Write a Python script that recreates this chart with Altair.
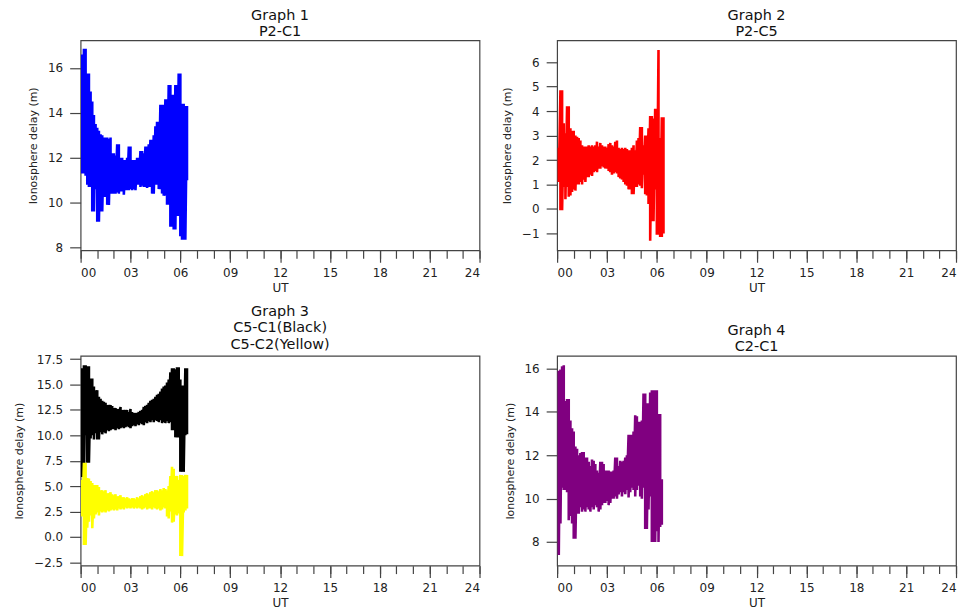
import altair as alt
import pandas as pd

# ---- data (hours UT, upper / lower envelope of the noisy trace) ----
UT = [0.1, 0.2, 0.3, 0.4, 0.5, 0.6, 0.7, 0.8, 0.9, 1.0,
      1.1, 1.2, 1.3, 1.4, 1.5, 1.6, 1.7, 1.8, 1.9, 2.0,
      2.1, 2.2, 2.3, 2.4, 2.5, 2.6, 2.7, 2.8, 2.9, 3.0,
      3.1, 3.2, 3.3, 3.4, 3.5, 3.6, 3.7, 3.8, 3.9, 4.0,
      4.1, 4.2, 4.3, 4.4, 4.5, 4.6, 4.7, 4.8, 4.9, 5.0,
      5.1, 5.2, 5.3, 5.4, 5.5, 5.6, 5.7, 5.8, 5.9, 6.0,
      6.1, 6.2, 6.3, 6.4]
UT4 = UT[:63]

P2C1_HIGH = [16.6, 16.85, 16.85, 15.75, 15.75, 14.95, 14.5, 13.9, 13.5, 13.33,
             13.2, 13.04, 13.0, 12.9, 12.9, 12.9, 12.85, 12.9, 12.2, 12.2,
             12.1, 12.6, 12.6, 12.0, 12.0, 11.9, 11.9, 12.0, 12.5, 12.5,
             11.9, 11.9, 11.9, 12.0, 12.0, 12.3, 12.3, 12.2, 12.5, 12.5,
             12.6, 12.8, 12.8, 13.0, 13.4, 13.6, 13.6, 14.36, 14.36, 14.36,
             14.6, 14.6, 15.24, 15.24, 14.8, 14.8, 15.24, 15.24, 15.75, 15.75,
             14.4, 14.4, 14.3, 14.3]
P2C1_LOW = [11.3, 11.3, 11.2, 10.8, 10.7, 10.7, 9.6, 9.6, 10.6, 9.15,
            9.15, 9.6, 9.6, 10.25, 10.25, 9.9, 9.9, 10.4, 10.4, 10.4,
            10.4, 10.45, 10.4, 10.5, 10.5, 10.35, 10.55, 10.55, 10.55, 10.6,
            10.55, 10.6, 10.55, 10.8, 10.8, 10.7, 10.75, 10.7, 10.7, 10.65,
            10.7, 10.7, 10.4, 10.4, 10.8, 10.8, 10.6, 10.6, 10.4, 10.3,
            10.3, 9.9, 9.9, 8.93, 8.93, 8.8, 8.8, 9.4, 9.4, 8.5,
            8.35, 8.35, 8.35, 11.0]

P2C5_HIGH = [2.5, 4.85, 4.85, 3.5, 3.1, 4.2, 4.2, 3.3, 3.2, 3.2,
             3.0, 2.95, 2.9, 2.8, 2.6, 2.55, 2.55, 2.55, 2.6, 2.55,
             2.6, 2.55, 2.6, 2.75, 2.55, 2.7, 2.6, 2.55, 2.55, 2.5,
             2.65, 2.7, 2.6, 2.55, 2.75, 2.8, 2.5, 2.45, 2.5, 2.45,
             2.5, 2.45, 2.4, 2.4, 2.5, 2.6, 2.4, 2.8, 2.9, 3.35,
             3.35, 2.6, 3.0, 3.0, 3.3, 3.8, 3.8, 3.7, 4.1, 4.1,
             6.5, 2.9, 3.75, 3.75]
P2C5_LOW = [1.1, -0.05, -0.05, 0.9, 0.4, 0.9, 0.5, 0.55, 0.7, 0.8,
            0.75, 1.0, 1.0, 1.1, 1.0, 1.2, 1.1, 1.3, 1.3, 1.4,
            1.35, 1.5, 1.55, 1.5, 1.65, 1.65, 1.75, 1.7, 1.65, 1.65,
            1.55, 1.5, 1.4, 1.45, 1.5, 1.45, 1.3, 1.25, 1.2, 1.1,
            1.0, 0.95, 0.8, 0.8, 0.6, 0.6, 0.9, 0.9, 1.0, 0.95,
            0.85, 1.4, 0.6, 0.55, 0.2, -1.3, -0.5, -0.5, 0.8, -1.05,
            -1.05, -1.15, -1.15, -1.0]

C5C1_HIGH = [16.6, 16.9, 16.9, 16.8, 16.8, 15.6, 15.6, 14.8, 14.45, 14.45,
             13.8, 13.6, 13.4, 13.3, 13.2, 13.0, 13.0, 13.0, 12.9, 12.7,
             12.7, 12.6, 12.6, 12.8, 12.5, 12.5, 12.5, 12.5, 12.3, 12.6,
             12.3, 12.2, 12.2, 12.2, 12.3, 12.4, 12.5, 12.8, 12.9, 13.0,
             13.2, 13.4, 13.5, 13.6, 13.8, 14.0, 14.1, 14.3, 14.6, 14.8,
             14.9, 15.2, 15.5, 16.2, 16.6, 16.6, 16.5, 16.7, 16.7, 15.5,
             14.9, 14.9, 16.6, 16.6]
C5C1_LOW = [5.9, 5.9, 10.0, 7.3, 7.3, 9.7, 10.0, 9.6, 10.2, 9.6,
            9.6, 10.3, 10.1, 10.3, 10.2, 10.5, 10.4, 10.5, 10.6, 10.6,
            10.5, 10.7, 10.6, 10.7, 10.8, 10.7, 10.8, 10.9, 10.8, 10.7,
            10.9, 11.0, 10.9, 11.1, 11.0, 11.2, 11.1, 11.0, 11.3, 11.2,
            11.4, 11.3, 11.5, 11.3, 11.5, 11.4, 11.3, 11.5, 11.2, 11.3,
            11.2, 11.4, 11.2, 11.3, 10.5, 10.5, 9.8, 9.8, 9.8, 6.4,
            6.4, 6.4, 10.0, 10.1]

C5C2_HIGH = [5.6, 7.3, 7.3, 5.8, 5.75, 5.5, 5.3, 5.1, 5.1, 5.1,
             4.9, 4.6, 4.6, 4.5, 4.6, 4.3, 4.3, 4.4, 4.2, 4.1,
             4.2, 4.0, 4.0, 4.1, 3.9, 3.9, 3.8, 3.9, 3.8, 3.7,
             3.8, 3.8, 3.7, 3.9, 3.8, 4.0, 4.1, 4.0, 4.2, 4.3,
             4.2, 4.4, 4.5, 4.4, 4.6, 4.6, 4.5, 4.7, 4.6, 4.8,
             4.7, 4.6, 5.0, 6.0, 6.9, 6.7, 6.0, 6.0, 5.6, 6.1,
             6.1, 6.0, 6.1, 6.1]
C5C2_LOW = [2.0, -0.8, -0.8, 0.9, 1.5, 2.1, 0.85, 1.8, 2.2, 2.4,
            2.1, 2.5, 2.4, 2.5, 2.4, 2.6, 2.5, 2.6, 2.7, 2.6,
            2.7, 2.6, 2.8, 2.7, 2.8, 2.7, 2.9, 2.8, 2.9, 2.8,
            2.9, 2.8, 2.9, 2.8, 2.9, 2.8, 2.7, 2.8, 2.9, 2.7,
            2.8, 2.8, 2.7, 2.9, 2.8, 2.7, 2.8, 2.6, 2.7, 2.9,
            2.8, 2.0, 1.8, 2.5, 1.4, 1.5, 2.2, 2.1, 2.3, -1.9,
            -1.9, 2.4, 2.6, 2.8]

C2C1_HIGH = [15.9, 15.95, 16.1, 16.15, 14.5, 14.6, 14.6, 13.6, 13.25, 13.1,
             12.4, 12.3, 12.0, 12.1, 12.15, 12.15, 11.9, 11.9, 11.7, 11.5,
             11.8, 11.75, 11.6, 11.3, 11.2, 11.7, 11.7, 11.6, 11.3, 11.3,
             11.3, 11.25, 11.25, 11.3, 11.9, 11.9, 11.5, 11.75, 11.7, 11.75,
             11.9, 12.0, 12.95, 12.95, 12.95, 13.1, 13.85, 13.8, 13.55, 13.55,
             13.6, 14.85, 14.85, 14.4, 14.4, 14.9, 15.0, 15.0, 15.0, 15.0,
             13.9, 13.9, 10.9]
C2C1_LOW = [7.4, 8.85, 10.5, 10.4, 10.4, 10.3, 9.0, 9.2, 8.85, 8.15,
            8.15, 9.3, 9.3, 9.6, 9.4, 9.5, 9.4, 9.6, 9.5, 9.4,
            9.6, 9.5, 9.7, 9.6, 9.4, 9.5, 9.7, 9.8, 9.8, 9.9,
            9.7, 9.8, 10.0, 10.0, 10.1, 10.0, 10.2, 10.3, 10.1, 10.3,
            10.2, 10.4, 10.05, 10.3, 10.5, 10.4, 10.1, 10.4, 10.6, 10.1,
            10.0, 10.5, 8.6, 8.6, 9.5, 10.1, 8.0, 8.0, 8.0, 8.5,
            8.0, 8.7, 8.8]

HOURS_MINOR = list(range(0, 25))
HOURS_MAJOR = [0, 3, 6, 9, 12, 15, 18, 21, 24]

Y1_TICKS = [8, 10, 12, 14, 16]
Y2_TICKS = [-1, 0, 1, 2, 3, 4, 5, 6]
Y3_TICKS = [-2.5, 0.0, 2.5, 5.0, 7.5, 10.0, 12.5, 15.0, 17.5]
Y4_TICKS = [8, 10, 12, 14, 16]

Y1_DOMAIN = [7.875, 17.225]
Y2_DOMAIN = [-1.69, 6.89]
Y3_DOMAIN = [-2.84, 17.84]
Y4_DOMAIN = [6.91, 16.59]

FONT = "DejaVu Sans"
W, H = 401, 211


def trace(times, high, low):
    rows = []
    for k, (t, h, l) in enumerate(zip(times, high, low)):
        rows.append({"ut": t, "delay": h, "i": 2 * k})
        rows.append({"ut": t, "delay": l, "i": 2 * k + 1})
    return pd.DataFrame(rows)


def panel(series, title_lines, ydom, yticks, yfmt):
    xscale = alt.Scale(domain=[0, 24], nice=False, zero=False)
    x_minor = alt.X("ut:Q", scale=xscale,
                    axis=alt.Axis(values=HOURS_MINOR, labels=False, tickSize=8,
                                  domain=False, grid=False, title=None, orient="bottom"))
    x_major = alt.X("ut:Q", scale=xscale,
                    axis=alt.Axis(values=HOURS_MAJOR, format="02d", tickSize=12,
                                  labelPadding=5, domain=False, grid=False, title="UT",
                                  titlePadding=4, orient="bottom"))
    y = alt.Y("delay:Q", scale=alt.Scale(domain=ydom, nice=False, zero=False),
              axis=alt.Axis(values=yticks, format=yfmt, tickSize=11, labelPadding=7,
                            domain=False, grid=False, title="Ionosphere delay (m)",
                            titlePadding=9))
    layers = []
    for idx, (df, color) in enumerate(series):
        layers.append(
            alt.Chart(df).mark_line(color=color, strokeWidth=2.6, clip=True).encode(
                x=x_minor if idx == 0 else x_major, y=y, order="i:Q")
        )
    if len(series) == 1:
        df0 = series[0][0]
        layers.append(
            alt.Chart(df0).mark_line(opacity=0, clip=True).encode(x=x_major, y=y, order="i:Q")
        )
    return alt.layer(*layers).resolve_axis(x="independent").properties(
        width=W, height=H,
        title=alt.TitleParams(title_lines, fontSize=14.5, fontWeight="normal", font=FONT,
                              color="#111", lineHeight=16.5, offset=1, anchor="middle"),
    )


p1 = panel([(trace(UT, P2C1_HIGH, P2C1_LOW), "#0000ff")], ["Graph 1", "P2-C1"],
           Y1_DOMAIN, Y1_TICKS, "d")
p2 = panel([(trace(UT, P2C5_HIGH, P2C5_LOW), "#ff0000")], ["Graph 2", "P2-C5"],
           Y2_DOMAIN, Y2_TICKS, "d")
p3 = panel([(trace(UT, C5C1_HIGH, C5C1_LOW), "#000000"),
            (trace(UT, C5C2_HIGH, C5C2_LOW), "#ffff00")],
           ["Graph 3", "C5-C1(Black)", "C5-C2(Yellow)"], Y3_DOMAIN, Y3_TICKS, ".1f")
p4 = panel([(trace(UT4, C2C1_HIGH, C2C1_LOW), "#800080")], ["Graph 4", "C2-C1"],
           Y4_DOMAIN, Y4_TICKS, "d")

chart = alt.concat(
    p1, p2, p3, p4, columns=2, spacing={"row": 106, "column": 78}, bounds="flush"
).properties(
    padding={"left": 5, "top": -3, "right": 0, "bottom": 0}
).configure_view(
    stroke="#444", strokeWidth=1.2
).configure_axis(
    labelFont=FONT, labelFontSize=12, labelColor="#222", tickColor="#444",
    tickWidth=1.2, titleFont=FONT, titleFontWeight="normal", titleColor="#222"
).configure_axisX(
    titleFontSize=12
).configure_axisY(
    titleFontSize=11
)

chart.save("out.html", embed_options={"renderer": "svg", "actions": False})
